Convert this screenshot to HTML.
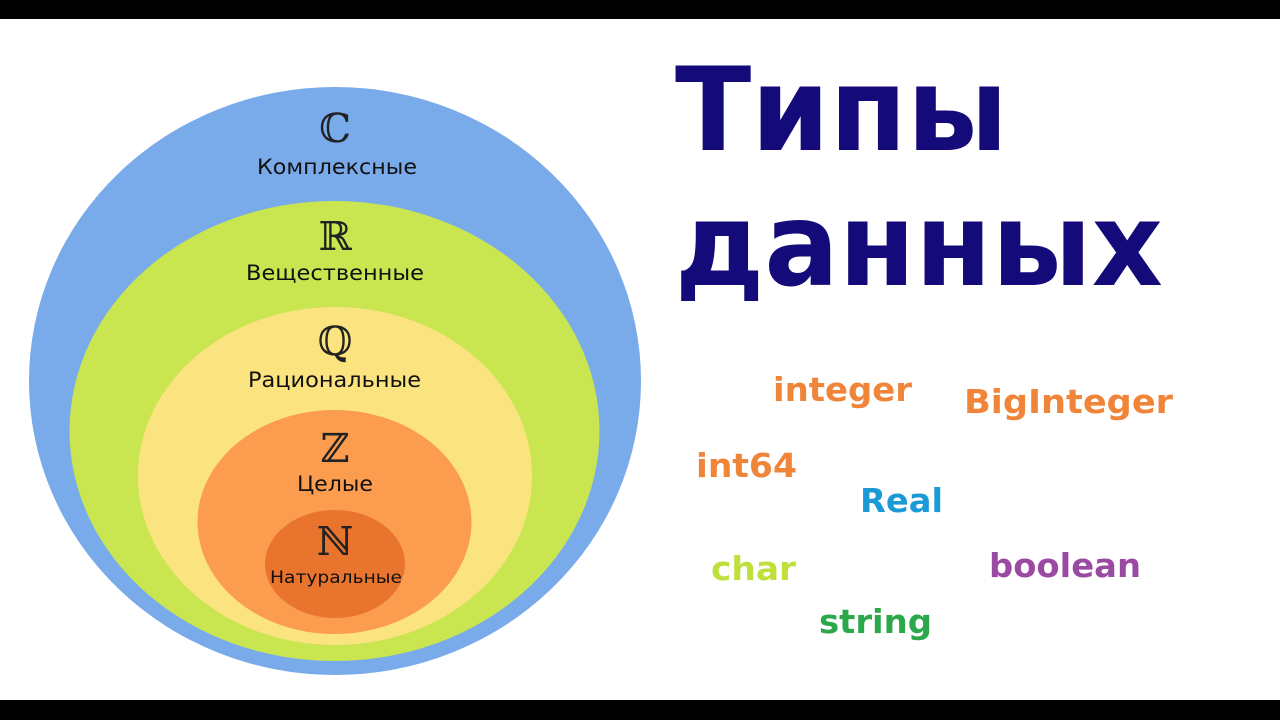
<!DOCTYPE html>
<html><head><meta charset="utf-8"><style>
html,body{margin:0;padding:0;background:#fff;}
svg{display:block;}
</style></head><body>
<svg width="1280" height="720" viewBox="0 0 1280 720" xmlns="http://www.w3.org/2000/svg">
<rect x="0" y="0" width="1280" height="720" fill="#fff"/>
<rect x="0" y="0" width="1280" height="19" fill="#000"/>
<rect x="0" y="700" width="1280" height="20" fill="#000"/>
<ellipse cx="335" cy="381" rx="306" ry="294" fill="#79aaea"/>
<ellipse cx="334.5" cy="431" rx="265" ry="230" fill="#c9e650"/>
<ellipse cx="335" cy="476" rx="197" ry="169" fill="#fbe47f"/>
<ellipse cx="334.5" cy="522" rx="137" ry="112" fill="#fb9c4f"/>
<ellipse cx="335" cy="564" rx="70" ry="54" fill="#e8742e"/>
<g font-family="'DejaVu Serif','Liberation Serif',serif" font-size="40" fill="#222" text-anchor="middle">
<text x="335" y="142">ℂ</text>
<text x="335" y="250">ℝ</text>
<text x="335" y="355">ℚ</text>
<text x="335" y="462">ℤ</text>
<text x="335" y="555">ℕ</text>
</g>
<g font-family="'DejaVu Sans','Liberation Sans',sans-serif" font-size="21" fill="#111">
<text x="257" y="174" textLength="160" lengthAdjust="spacingAndGlyphs">Комплексные</text>
<text x="246" y="280" textLength="178" lengthAdjust="spacingAndGlyphs">Вещественные</text>
<text x="248" y="387" textLength="173" lengthAdjust="spacingAndGlyphs">Рациональные</text>
<text x="297" y="491" textLength="76" lengthAdjust="spacingAndGlyphs">Целые</text>
<text x="270" y="583" font-size="17" textLength="132" lengthAdjust="spacingAndGlyphs">Натуральные</text>
</g>
<g font-family="'DejaVu Sans','Liberation Sans',sans-serif" font-weight="bold" fill="#150a7a">
<text x="675" y="150" font-size="116" textLength="333" lengthAdjust="spacingAndGlyphs">Типы</text>
<text x="675" y="285" font-size="116" textLength="488" lengthAdjust="spacingAndGlyphs">данных</text>
</g>
<g font-family="'DejaVu Sans','Liberation Sans',sans-serif" font-weight="bold" font-size="33">
<text x="773" y="401" fill="#f0853a" textLength="139" lengthAdjust="spacingAndGlyphs">integer</text>
<text x="964" y="413" fill="#f0853a" textLength="209" lengthAdjust="spacingAndGlyphs">BigInteger</text>
<text x="696" y="477" fill="#f0853a" textLength="101" lengthAdjust="spacingAndGlyphs">int64</text>
<text x="860" y="512" fill="#1a9ad6" textLength="83" lengthAdjust="spacingAndGlyphs">Real</text>
<text x="711" y="580" fill="#bfe03a" textLength="85" lengthAdjust="spacingAndGlyphs">char</text>
<text x="989" y="577" fill="#9b4aa3" textLength="152" lengthAdjust="spacingAndGlyphs">boolean</text>
<text x="819" y="633" fill="#2aa84a" textLength="113" lengthAdjust="spacingAndGlyphs">string</text>
</g>
</svg>
</body></html>
